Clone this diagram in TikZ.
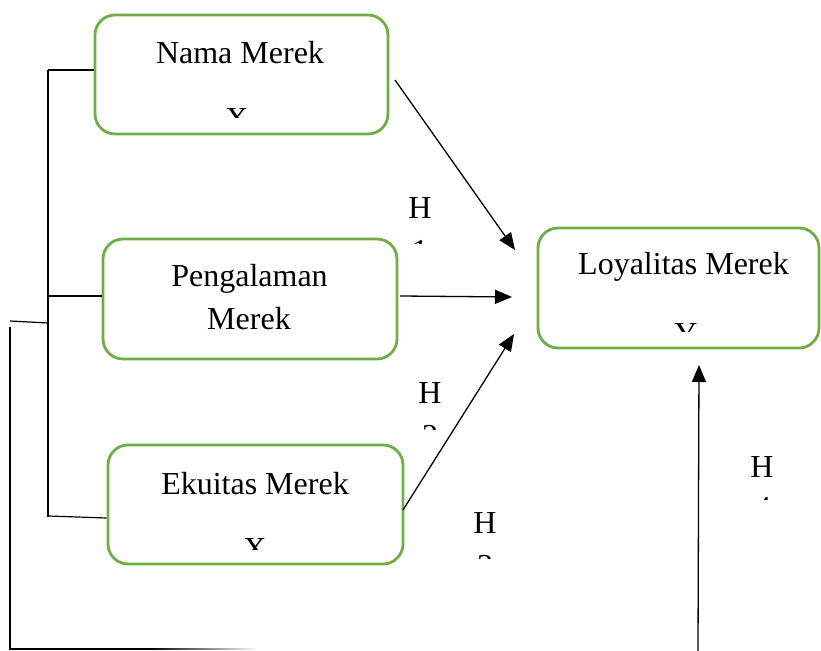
\documentclass[tikz,border=0pt]{standalone}
\usepackage{fontspec}
\setmainfont{Liberation Serif}
\usetikzlibrary{arrows.meta}
\definecolor{boxgreen}{RGB}{112,173,71}
\begin{document}
\begin{tikzpicture}[x=0.5pt,y=-0.5pt,
  box/.style={draw=boxgreen, line width=1.4pt, rounded corners=10pt, inner sep=0pt},
  lbl/.style={anchor=base, inner sep=0pt, font=\fontsize{16}{19}\selectfont},
  conn/.style={line width=0.6pt},
  arr/.style={line width=0.65pt, -{Triangle[length=8.5pt,width=7pt]}}]
\useasboundingbox (0,0) rectangle (821,651);
% boxes
\node[box, minimum width=146.5pt, minimum height=59.5pt] (nama) at (241.5,74.5) {};
\node[box, minimum width=147pt, minimum height=60pt] (peng) at (250,299) {};
\node[box, minimum width=147.5pt, minimum height=59.5pt] (ekui) at (255.5,504.5) {};
\node[box, minimum width=140.5pt, minimum height=60pt] (loya) at (678.5,288) {};
% box texts
\node[lbl] (namat) at (240,64) {Nama Merek};
\node[lbl] (pengt1) at (249.5,287) {Pengalaman};
\node[lbl] (pengt2) at (249,330) {Merek};
\node[lbl] (ekuit) at (255,494.5) {Ekuitas Merek};
\node[lbl] (loyat) at (683.5,275) {Loyalitas Merek};
% clipped variable names
\begin{scope}
  \clip (200,100) rectangle (290,118);
  \node[lbl, anchor=base west] (xa) at (225,130) {X\textsubscript{1}};
\end{scope}
\begin{scope}
  \clip (220,530) rectangle (300,550);
  \node[lbl, anchor=base west] (xc) at (243,560) {X\textsubscript{3}};
\end{scope}
\begin{scope}
  \clip (650,315) rectangle (720,332);
  \node[lbl, anchor=base west] (yy) at (674,345) {Y};
\end{scope}
% hypothesis labels
\node[lbl] (h1) at (420,219) {H};
\node[lbl] (h2) at (430,404) {H};
\node[lbl] (h3) at (485,534) {H};
\node[lbl] (h4) at (762,478) {H};
\begin{scope}
  \clip (400,230) rectangle (440,244);
  \node[lbl] (d1) at (420,262) {1};
\end{scope}
\begin{scope}
  \clip (410,415) rectangle (450,430);
  \node[lbl] (d2) at (430,447) {2};
\end{scope}
\begin{scope}
  \clip (465,545) rectangle (505,559);
  \node[lbl] (d3) at (485,577) {3};
\end{scope}
\begin{scope}
  \clip (745,488) rectangle (785,500);
  \node[lbl] (d4) at (763,519) {4};
\end{scope}
% connector end points
\coordinate (a1s) at (395,80);  \coordinate (a1e) at (515,250);
\coordinate (a2s) at (400,296); \coordinate (a2e) at (512,297);
\coordinate (a3s) at (403,510); \coordinate (a3e) at (514,334);
\coordinate (a4s) at (698,651); \coordinate (a4e) at (699,365);
\draw[arr] (a1s) -- (a1e);
\draw[arr] (a2s) -- (a2e);
\draw[arr] (a3s) -- (a3e);
\draw[arr] (a4s) -- (a4e);
% left bracket
\coordinate (bt) at (48,70);  \coordinate (bb) at (48,517);
\coordinate (bm) at (48,296); \coordinate (bl) at (48,516);
\coordinate (bk) at (48,323);
\coordinate (ka) at (10,321); \coordinate (kb) at (10,327);
\coordinate (kc) at (10,649); \coordinate (kd) at (150,649);
\draw[conn] (bt) -- (bb);
\draw[conn] (bt) -- (nama.west |- bt);
\draw[conn] (bm) -- (peng.west |- bm);
\draw[conn] (bl) -- (ekui.west |- 0,518);
\draw[conn] (ka) -- (bk);
\draw[conn] (kb) -- (kc) -- (kd);
\shade[left color=black, right color=white] (150,648.2) rectangle (258,649.8);
\end{tikzpicture}
\end{document}
